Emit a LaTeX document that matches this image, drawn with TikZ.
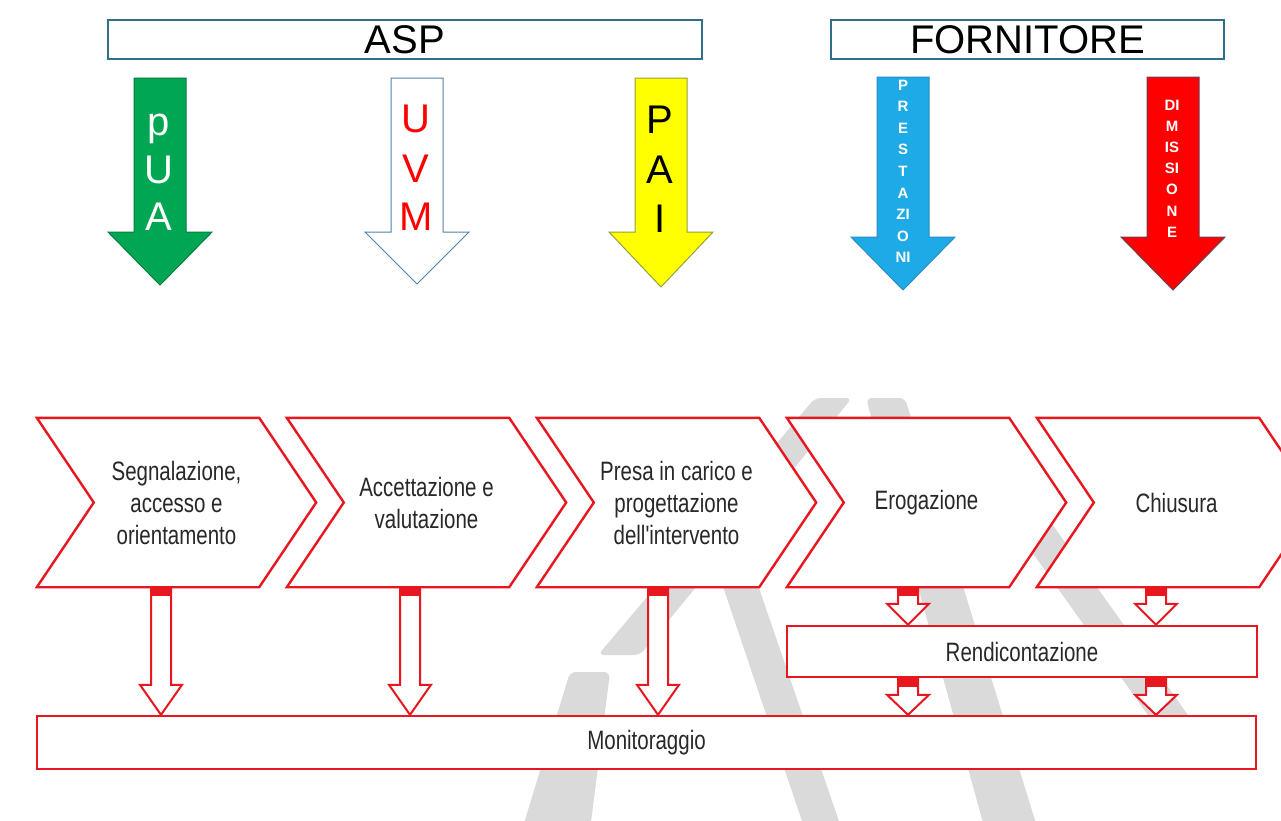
\documentclass[tikz,border=0pt]{standalone}
\usepackage{fontspec}
\setmainfont{Liberation Sans}
\newfontfamily\narrowfont[FakeStretch=0.77]{Liberation Sans}
\usetikzlibrary{calc}
\definecolor{myred}{RGB}{232,22,30}
\definecolor{txt}{RGB}{40,40,40}
\definecolor{boxblue}{RGB}{49,110,140}
\definecolor{wmgray}{RGB}{218,218,218}
\definecolor{puagreen}{RGB}{0,166,81}
\definecolor{prestblue}{RGB}{29,170,230}
\definecolor{paiyellow}{RGB}{255,255,0}
\definecolor{dimred}{RGB}{255,0,0}
\pgfdeclarelayer{wm}
\pgfdeclarelayer{chevbg}
\pgfsetlayers{wm,chevbg,main}
\newcommand{\downarrowshape}[5]{% style, cx, top, shoulder, tip
  \path[#1] (#2-26,#3) -- (#2+26,#3) -- (#2+26,#4) -- (#2+52,#4) -- (#2,#5) -- (#2-52,#4) -- (#2-26,#4) -- cycle;}
\newcommand{\hollowarrow}[3]{% start, end, head height
  \draw[hollow] let \p1=(#1), \p2=(#2) in
    (\x1-10pt,\y1) -- (\x1+10pt,\y1) -- (\x1+10pt,\y2+#3) -- (\x1+21pt,\y2+#3) -- (\x1,\y2) -- (\x1-21pt,\y2+#3) -- (\x1-10pt,\y2+#3) -- cycle;
  \fill[myred] let \p1=(#1) in (\x1-10pt,\y1) rectangle (\x1+10pt,\y1-9pt);}
\begin{document}
\begin{tikzpicture}[x=1pt,y=-1pt,
  topbox/.style={draw=boxblue, line width=1.5pt, fill=white, inner sep=0pt, font=\fontsize{40}{48}\selectfont},
  chevnode/.style={minimum width=279pt, minimum height=169pt, inner sep=0pt, align=center, text=txt, font=\narrowfont\fontsize{26.6}{32}\selectfont},
  chevline/.style={draw=myred, line width=2.4pt, fill=white, line join=miter},
  redbox/.style={draw=myred, line width=2.4pt, fill=white, inner sep=0pt, text=txt, font=\narrowfont\fontsize{26.6}{32}\selectfont},
  hollow/.style={draw=myred, line width=2pt, fill=white, line join=miter},
  bigletter/.style={anchor=base, inner sep=0pt, font=\fontsize{40}{48}\selectfont},
  smallletter/.style={anchor=base, inner sep=0pt, text=white, font=\bfseries\fontsize{15}{18}\selectfont},
  wmark/.style={fill=wmgray, draw=none, rounded corners=6pt}
]
\useasboundingbox (0,0) rectangle (1281,820);

% watermark
\begin{pgfonlayer}{wm}
  \fill[white] (0,0) rectangle (1281,820);
  \begin{scope}
  \clip (0,0) rectangle (1281,820);
  \path[wmark] (815,398) -- (852,398) -- (640,655) -- (598,655) -- cycle;
  \path[wmark] (866,398) -- (905,398) -- (1038,830) -- (985,830) -- cycle;
  \path[wmark] (704,530) -- (739,530) -- (842,830) -- (805,830) -- cycle;
  \path[wmark] (570,672) -- (610,672) -- (590,830) -- (522,830) -- cycle;
  \path[wmark] (995,500) -- (1035,500) -- (1195,725) -- (1155,725) -- cycle;
  \end{scope}
\end{pgfonlayer}

% top boxes
\node[topbox, minimum width=594pt, minimum height=39pt] (asp) at (405,39.5) {ASP};
\node[topbox, minimum width=393pt, minimum height=39pt] (forn) at (1027.5,39.5) {FORNITORE};

% top arrows
\downarrowshape{fill=puagreen, draw={rgb,255:red,0;green,125;blue,65}, line width=1pt}{160}{78}{232}{285}
\downarrowshape{fill=white, draw={rgb,255:red,80;green,130;blue,170}, line width=1pt}{417}{78}{232}{284}
\downarrowshape{fill=paiyellow, draw={rgb,255:red,150;green,160;blue,60}, line width=1pt}{661}{78}{232}{287}
\downarrowshape{fill=prestblue, draw={rgb,255:red,40;green,140;blue,200}, line width=1pt}{903}{77}{237}{290}
\downarrowshape{fill=dimred, draw={rgb,255:red,110;green,60;blue,80}, line width=1pt}{1173}{77}{237}{290}

% letters in arrows
\foreach \l/\y [count=\i] in {p/135, U/183, A/230}
  \node[bigletter, text=white] (pua-\i) at (159,\y) {\l};
\foreach \l/\y [count=\i] in {U/132, V/182, M/230}
  \node[bigletter, text=dimred] (uvm-\i) at (416,\y) {\l};
\foreach \l/\y [count=\i] in {P/133, A/183, I/232}
  \node[bigletter, text=black] (pai-\i) at (660,\y) {\l};
\foreach \l/\y [count=\i] in {P/90, R/111.6, E/133.2, S/154.8, T/176.4, A/198, ZI/219.6, O/241.2, NI/262.8}
  \node[smallletter] (prest-\i) at (903,\y) {\l};
\foreach \l/\y [count=\i] in {DI/110, M/131.2, IS/152.4, SI/173.6, O/194.8, N/216, E/237.2}
  \node[smallletter] (dim-\i) at (1172,\y) {\l};

% chevrons
\node[chevnode] (c1) at (176.5,502.5) {Segnalazione,\\accesso e\\orientamento};
\node[chevnode] (c2) at (426.5,502.5) {Accettazione e\\valutazione};
\node[chevnode] (c3) at (676.5,502.5) {Presa in carico e\\progettazione\\dell'intervento};
\node[chevnode] (c4) at (926.5,502.5) {Erogazione};
\node[chevnode] (c5) at (1176.5,502.5) {Chiusura};
\begin{pgfonlayer}{chevbg}
\foreach \c in {c1,c2,c3,c4,c5}
  \path[chevline] (\c.north west) -- ([xshift=-57pt]\c.north east) -- (\c.east)
    -- ([xshift=-57pt]\c.south east) -- (\c.south west) -- ([xshift=57pt]\c.west) -- cycle;
\end{pgfonlayer}

% boxes
\node[redbox, minimum width=1219pt, minimum height=53pt] (mon) at (646.5,742.5) {Monitoraggio};
\node[redbox, minimum width=470pt, minimum height=51pt] (rend) at (1022,651.5) {Rendicontazione};

% connector start points
\coordinate (s1) at ([xshift=-15.5pt]c1.south);
\coordinate (s2) at ([xshift=-16.5pt]c2.south);
\coordinate (s3) at ([xshift=-18.5pt]c3.south);
\coordinate (s4) at ([xshift=-18.5pt]c4.south);
\coordinate (s5) at ([xshift=-20.5pt]c5.south);
\coordinate (e1) at (s1 |- mon.north);
\coordinate (e2) at (s2 |- mon.north);
\coordinate (e3) at (s3 |- mon.north);
\coordinate (e4) at (s4 |- rend.north);
\coordinate (e5) at (s5 |- rend.north);
\coordinate (r4) at (s4 |- rend.south);
\coordinate (r5) at (s5 |- rend.south);
\coordinate (m4) at (s4 |- mon.north);
\coordinate (m5) at (s5 |- mon.north);

\hollowarrow{s1}{e1}{30pt}
\hollowarrow{s2}{e2}{30pt}
\hollowarrow{s3}{e3}{30pt}
\hollowarrow{s4}{e4}{21pt}
\hollowarrow{s5}{e5}{21pt}
\hollowarrow{r4}{m4}{20pt}
\hollowarrow{r5}{m5}{20pt}
\end{tikzpicture}
\end{document}
